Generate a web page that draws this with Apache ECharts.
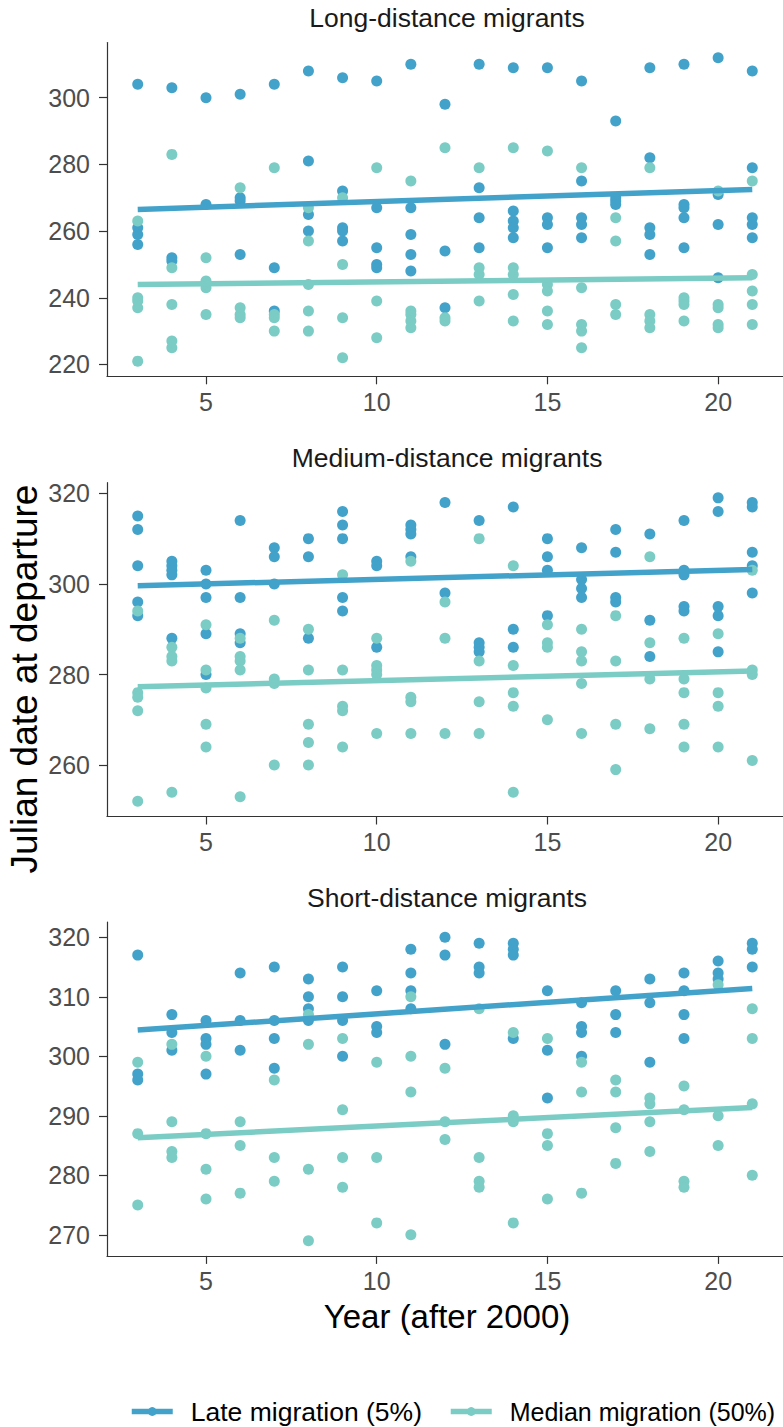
<!DOCTYPE html>
<html>
<head>
<meta charset="utf-8">
<script src="https://cdn.jsdelivr.net/npm/echarts@6/dist/echarts.min.js"></script>
<style>
html,body{margin:0;padding:0;background:#ffffff;}
#chart{width:783px;height:1427px;}
</style>
</head>
<body>
<div id="chart"></div>
<script>
// ---------------- DATA ----------------
const years = [3,4,5,6,7,8,9,10,11,12,13,14,15,16,17,18,19,20,21];
const trendYears = [3, 21];
const panelTitles = ['Long-distance migrants', 'Medium-distance migrants', 'Short-distance migrants'];
const seriesNames = ['Late migration (5%)', 'Median migration (50%)'];
const xTickValues = [5, 10, 15, 20];
const longYTicks = [220, 240, 260, 280, 300];
const mediumYTicks = [260, 280, 300, 320];
const shortYTicks = [270, 280, 290, 300, 310, 320];
const yAxisTitle = 'Julian date at departure';
const xAxisTitle = 'Year (after 2000)';

// Long-distance migrants (values per year, aligned with `years`)
const longLate = [
  [304,261,259,256],[303,252,251],[300,268],[301,270,269,253],[304,249,236],
  [308,281,265,260],[306,272,261,260,257],[305,267,255,250,249],[310,267,259,253,248],
  [298,254,237],[310,273,264,255],[309,266,263,261,258],[309,264,262,255],
  [305,275,264,262,258],[293,270,269,268],[309,282,261,259,253],[310,268,267,264,255],
  [312,271,262,246],[308,279,264,262,258]
];
const longMedian = [
  [263,240,239,237,221],[283,249,238,227,225],[252,245,243,235],[273,237,235,234],[279,235,234,230],
  [267,257,244,236,230],[270,250,234,222],[279,239,228],[275,236,235,233,231],
  [285,234,233],[279,249,247,239],[285,249,247,241,233],[284,244,242,236,232],
  [279,243,232,230,225],[264,257,238,235],[279,235,233,231],[240,239,238,233],
  [272,238,237,232,231],[275,247,242,238,232]
];
const longLateTrend = [266.5, 272.5];
const longMedianTrend = [244.0, 246.0];

// Medium-distance migrants
const mediumLate = [
  [315,312,304,296,293],[305,304,303,302,288],[303,300,297,289,280],[314,297,289,287],[308,306,300],
  [310,306,288],[316,313,310,297,294],[305,304,286],[313,312,311,306],
  [318,298],[314,287,286,285],[317,290,286],[310,306,303,293],
  [308,301,299,297],[312,307,297,296],[311,292,284],[314,303,302,295,294],
  [319,316,295,293,285],[318,317,307,304,298]
];
const mediumMedian = [
  [294,276,275,272,252],[286,284,283,254],[291,281,277,269,264],[288,284,283,281,253],[292,279,278,260],
  [290,281,269,265,260],[302,281,273,272,264],[288,282,281,280,267],[305,275,274,267],
  [296,288,267],[310,283,274,267],[304,282,276,273,254],[291,287,286,270],
  [290,285,283,278,267],[293,283,269,259],[306,287,279,268],[288,279,276,269,264],
  [289,276,273,264],[303,281,280,261]
];
const mediumLateTrend = [299.6, 303.2];
const mediumMedianTrend = [277.3, 280.8];

// Short-distance migrants
const shortLate = [
  [317,297,296],[307,304,301],[306,303,302,297],[314,306,301],[315,306,303,298],
  [313,310,308,306],[315,310,306,300],[311,305,304],[318,314,311,308],
  [320,317,302],[319,315,314],[319,318,317,303],[311,301,293],
  [309,305,304,300],[311,307,304],[313,309,299],[314,311,307,303],
  [316,314,313],[319,318,315]
];
const shortMedian = [
  [299,287,275],[302,289,284,283],[300,287,281,276],[289,285,277],[296,283,279],
  [307,302,281,269],[303,291,283,278],[299,283,272],[310,300,294,270],
  [298,289,286],[308,283,279,278],[304,290,289,272],[303,287,285,276],
  [299,294,277],[296,294,288,282],[293,292,289,284],[295,291,279,278],
  [312,290,285],[308,303,292,280]
];
const shortLateTrend = [304.4, 311.4];
const shortMedianTrend = [286.3, 291.4];

// ---------------- STYLE / LAYOUT ----------------
const BLUE = '#43a2ca';
const TEAL = '#7bccc4';
const FONT = '"Liberation Sans", Arial, Helvetica, sans-serif';
const AXIS_COLOR = '#333333';
const TICK_TEXT = '#4d4d4d';
const GRID_LEFT = 107, GRID_WIDTH = 680, GRID_HEIGHT = 333.8;

const panels = [
  {late: longLate, median: longMedian, lateTrend: longLateTrend, medianTrend: longMedianTrend,
   yTicks: longYTicks, yMin: 216.45, yMax: 316.55, top: 42.5},
  {late: mediumLate, median: mediumMedian, lateTrend: mediumLateTrend, medianTrend: mediumMedianTrend,
   yTicks: mediumYTicks, yMin: 248.65, yMax: 322.35, top: 482.7},
  {late: shortLate, median: shortMedian, lateTrend: shortLateTrend, medianTrend: shortMedianTrend,
   yTicks: shortYTicks, yMin: 266.45, yMax: 322.55, top: 922.1}
];

function toPairs(vals) {
  const out = [];
  years.forEach((yr, i) => vals[i].forEach(v => out.push([yr, v])));
  return out;
}
function trendPairs(t) {
  return trendYears.map((yr, k) => [yr, t[k]]);
}

const grids = [], xAxes = [], yAxes = [], lineSeries = [], scatterSeries = [], graphics = [];

panels.forEach((p, i) => {
  grids.push({left: GRID_LEFT, top: p.top, width: GRID_WIDTH, height: GRID_HEIGHT, containLabel: false});
  xAxes.push({
    type: 'value', gridIndex: i, min: 2.1, max: 21.9,
    axisLine: {show: true, lineStyle: {color: AXIS_COLOR, width: 1.2}},
    axisTick: {show: true, length: 8, lineStyle: {color: AXIS_COLOR, width: 1.2}, customValues: xTickValues},
    axisLabel: {customValues: xTickValues, fontSize: 25, color: TICK_TEXT, fontFamily: FONT, margin: 13},
    splitLine: {show: false}
  });
  yAxes.push({
    type: 'value', gridIndex: i, min: p.yMin, max: p.yMax,
    axisLine: {show: true, lineStyle: {color: AXIS_COLOR, width: 1.2}},
    axisTick: {show: true, length: 8, lineStyle: {color: AXIS_COLOR, width: 1.2}, customValues: p.yTicks},
    axisLabel: {customValues: p.yTicks, fontSize: 25, color: TICK_TEXT, fontFamily: FONT, margin: 17},
    splitLine: {show: false}
  });
  [[p.lateTrend, BLUE, 0], [p.medianTrend, TEAL, 1]].forEach(([t, c, k]) => {
    lineSeries.push({
      type: 'line', name: seriesNames[k], xAxisIndex: i, yAxisIndex: i,
      data: trendPairs(t), showSymbol: false, symbol: 'circle', silent: true,
      lineStyle: {color: c, width: 5.5, cap: 'butt'}, itemStyle: {color: c}, z: 4, animation: false
    });
  });
  [[p.late, BLUE, 0], [p.median, TEAL, 1]].forEach(([vals, c, k]) => {
    scatterSeries.push({
      type: 'scatter', name: seriesNames[k], xAxisIndex: i, yAxisIndex: i,
      data: toPairs(vals), symbol: 'circle', symbolSize: 11,
      itemStyle: {color: c, opacity: 1}, z: 2, animation: false
    });
  });
  graphics.push({
    type: 'text', x: GRID_LEFT + GRID_WIDTH / 2, y: p.top - 24.5,
    style: {text: panelTitles[i], fill: '#1a1a1a', fontSize: 26.5, fontFamily: FONT, align: 'center', verticalAlign: 'middle'}
  });
});

graphics.push({
  type: 'text', x: 24, y: 679, rotation: Math.PI / 2,
  style: {text: yAxisTitle, fill: '#000000', fontSize: 37, fontFamily: FONT, align: 'center', verticalAlign: 'middle'}
});
graphics.push({
  type: 'text', x: 447, y: 1316,
  style: {text: xAxisTitle, fill: '#000000', fontSize: 33, fontFamily: FONT, align: 'center', verticalAlign: 'middle'}
});

const chart = echarts.init(document.getElementById('chart'), null, {renderer: 'svg'});
chart.setOption({
  animation: false,
  backgroundColor: '#ffffff',
  grid: grids,
  xAxis: xAxes,
  yAxis: yAxes,
  legend: {
    data: [
      {name: seriesNames[0], textStyle: {fontSize: 26.5}},
      {name: seriesNames[1], textStyle: {fontSize: 25}}
    ],
    left: 129, top: 1398, width: 1000, padding: 0,
    orient: 'horizontal',
    itemWidth: 41, itemHeight: 11, itemGap: 26,
    lineStyle: {width: 5.5},
    textStyle: {fontSize: 26, color: '#000000', fontFamily: FONT, padding: [0, 0, 0, 13]}
  },
  graphic: graphics,
  series: lineSeries.concat(scatterSeries)
});
</script>
</body>
</html>
